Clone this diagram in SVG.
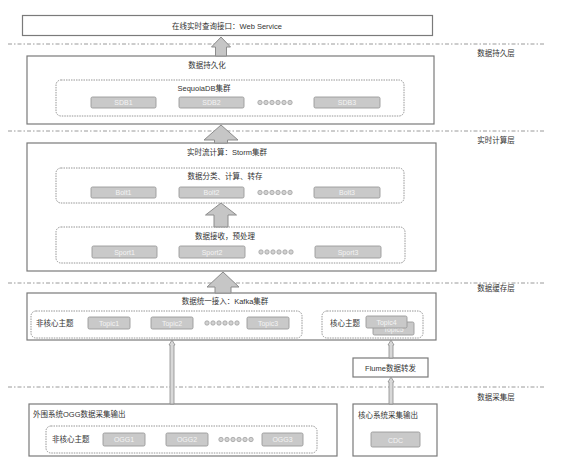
<svg xmlns="http://www.w3.org/2000/svg" width="562" height="464" viewBox="0 0 562 464">
<style>
text{font-family:"Liberation Sans","Noto Sans CJK SC",sans-serif;font-size:7.5px;fill:#333}
.box{fill:#fff;stroke:#7a7a7a;stroke-width:1.2}
.dash{fill:none;stroke:#8a8a8a;stroke-width:0.9;stroke-dasharray:1.5 1}
.sub{fill:#c9c9c9;stroke:#9a9a9a;stroke-width:0.9}
.subt{fill:#f4f4f4;font-size:7px;text-anchor:middle}
.mid{text-anchor:middle}
.sep{stroke:#9a9a9a;stroke-width:1;stroke-dasharray:4 2 1.5 2;fill:none}
.big{fill:#c6c6c6;stroke:#8c8c8c;stroke-width:1}
.thin{fill:#d8d8d8;stroke:#8c8c8c;stroke-width:0.8}
.dot{fill:#d2d2d2;stroke:#999;stroke-width:0.7}
.lay{font-size:7.5px;text-anchor:middle}
</style>
<defs>
<g id="dots">
<circle cx="0" cy="0" r="2.2" class="dot"/><circle cx="6" cy="0" r="2.2" class="dot"/><circle cx="12" cy="0" r="2.2" class="dot"/><circle cx="18" cy="0" r="2.2" class="dot"/><circle cx="24" cy="0" r="2.2" class="dot"/><circle cx="30" cy="0" r="2.2" class="dot"/>
</g>
</defs>

<g id="separators">
<path class="sep" d="M8 44H546M8 131H546M8 283H546M8 387H546"/>
<text class="lay" x="496" y="56">数据持久层</text>
<text class="lay" x="496" y="143">实时计算层</text>
<text class="lay" x="496" y="291">数据缓存层</text>
<text class="lay" x="496" y="400">数据采集层</text>
</g>

<g id="webservice">
<rect class="box" x="22.5" y="15.5" width="410" height="20"/>
<text class="mid" x="227" y="28.5">在线实时查询接口：Web Service</text>
</g>

<g id="persistence">
<rect class="box" x="27" y="56" width="407" height="68"/>
<text class="mid" x="207" y="68">数据持久化</text>
<rect class="dash" x="56" y="80" width="348" height="36" rx="5"/>
<text class="mid" x="204" y="91">SequoiaDB集群</text>
<rect class="sub" x="91" y="97" width="65" height="11" rx="1.5"/><text class="subt" x="123.5" y="105.3">SDB1</text>
<rect class="sub" x="179" y="97" width="65" height="11" rx="1.5"/><text class="subt" x="211.5" y="105.3">SDB2</text>
<use href="#dots" x="260" y="102.5"/>
<rect class="sub" x="314" y="97" width="66" height="11" rx="1.5"/><text class="subt" x="347" y="105.3">SDB3</text>
</g>

<g id="storm">
<rect class="box" x="27" y="143" width="409" height="128"/>
<text class="mid" x="227" y="155">实时流计算：Storm集群</text>
<rect class="dash" x="56" y="168" width="348" height="35" rx="5"/>
<text class="mid" x="225" y="179">数据分类、计算、转存</text>
<rect class="sub" x="91" y="187" width="65" height="11" rx="1.5"/><text class="subt" x="123.5" y="195.3">Bolt1</text>
<rect class="sub" x="179" y="187" width="65" height="11" rx="1.5"/><text class="subt" x="211.5" y="195.3">Bolt2</text>
<use href="#dots" x="260" y="192.5"/>
<rect class="sub" x="314" y="187" width="66" height="11" rx="1.5"/><text class="subt" x="347" y="195.3">Bolt3</text>
<rect class="dash" x="56" y="227" width="349" height="36" rx="5"/>
<text class="mid" x="225" y="239">数据接收，预处理</text>
<rect class="sub" x="92" y="246" width="65" height="12" rx="1.5"/><text class="subt" x="124.5" y="254.8">Sport1</text>
<rect class="sub" x="179" y="246" width="66" height="12" rx="1.5"/><text class="subt" x="212" y="254.8">Sport2</text>
<use href="#dots" x="261" y="252"/>
<rect class="sub" x="315" y="246" width="66" height="12" rx="1.5"/><text class="subt" x="348" y="254.8">Sport3</text>
</g>

<g id="kafka">
<rect class="box" x="27" y="293" width="409" height="47"/>
<text class="mid" x="225" y="304">数据统一接入：Kafka集群</text>
<rect class="dash" x="31" y="311" width="271" height="27" rx="5"/>
<text x="36" y="326">非核心主题</text>
<rect class="sub" x="88" y="317" width="42" height="12" rx="1.5"/><text class="subt" x="109" y="325.8">Topic1</text>
<rect class="sub" x="151" y="317" width="42" height="12" rx="1.5"/><text class="subt" x="172" y="325.8">Topic2</text>
<use href="#dots" x="207" y="323"/>
<rect class="sub" x="247" y="317" width="42" height="12" rx="1.5"/><text class="subt" x="268" y="325.8">Topic3</text>
<rect class="dash" x="322" y="311" width="101" height="27" rx="5"/>
<text x="330" y="326">核心主题</text>
<rect class="sub" x="373" y="322" width="41" height="13" rx="1.5"/><text class="subt" x="393.5" y="332">Topic5</text>
<rect class="sub" x="366" y="316" width="41" height="12" rx="1.5"/><text class="subt" x="386.5" y="324.8">Topic4</text>
</g>

<g id="flume">
<rect class="box" x="353" y="358" width="75" height="19"/>
<text class="mid" x="390.5" y="370.5">Flume数据转发</text>
</g>

<g id="ogg">
<rect class="box" x="29" y="404" width="308" height="52"/>
<text x="33" y="417">外围系统OGG数据采集输出</text>
<rect class="dash" x="46" y="426" width="271" height="27" rx="5"/>
<text x="52" y="442">非核心主题</text>
<rect class="sub" x="103" y="433" width="42" height="13" rx="1.5"/><text class="subt" x="124" y="442.3">OGG1</text>
<rect class="sub" x="166" y="433" width="42" height="13" rx="1.5"/><text class="subt" x="187" y="442.3">OGG2</text>
<use href="#dots" x="221" y="439.5"/>
<rect class="sub" x="262" y="433" width="41" height="13" rx="1.5"/><text class="subt" x="282.5" y="442.3">OGG3</text>
</g>

<g id="coresys">
<rect class="box" x="353" y="404" width="84" height="52"/>
<text x="358" y="418">核心系统采集输出</text>
<rect class="sub" x="371" y="432" width="49" height="15" rx="1.5"/><text class="subt" x="395.5" y="442.5">CDC</text>
</g>

<g id="connectors">
<path class="big" d="M221 37L230.5 47H226.5V56H215.5V47H211.5Z"/>
<path class="big" d="M221 125L238 140H227.5V143H214.5V140H204Z"/>
<path class="big" d="M221 203L236.5 215H228V227H214V215H205.5Z"/>
<path class="big" d="M223 272L239 287H231V293H215V287H207Z"/>
<path class="thin" d="M172 340L175 345H174V404H170V345H169Z"/>
<path class="thin" d="M391 340L394 345H393V358H389V345H388Z"/>
<path class="thin" d="M391 377L394 382H393V404H389V382H388Z"/>
</g>
</svg>
